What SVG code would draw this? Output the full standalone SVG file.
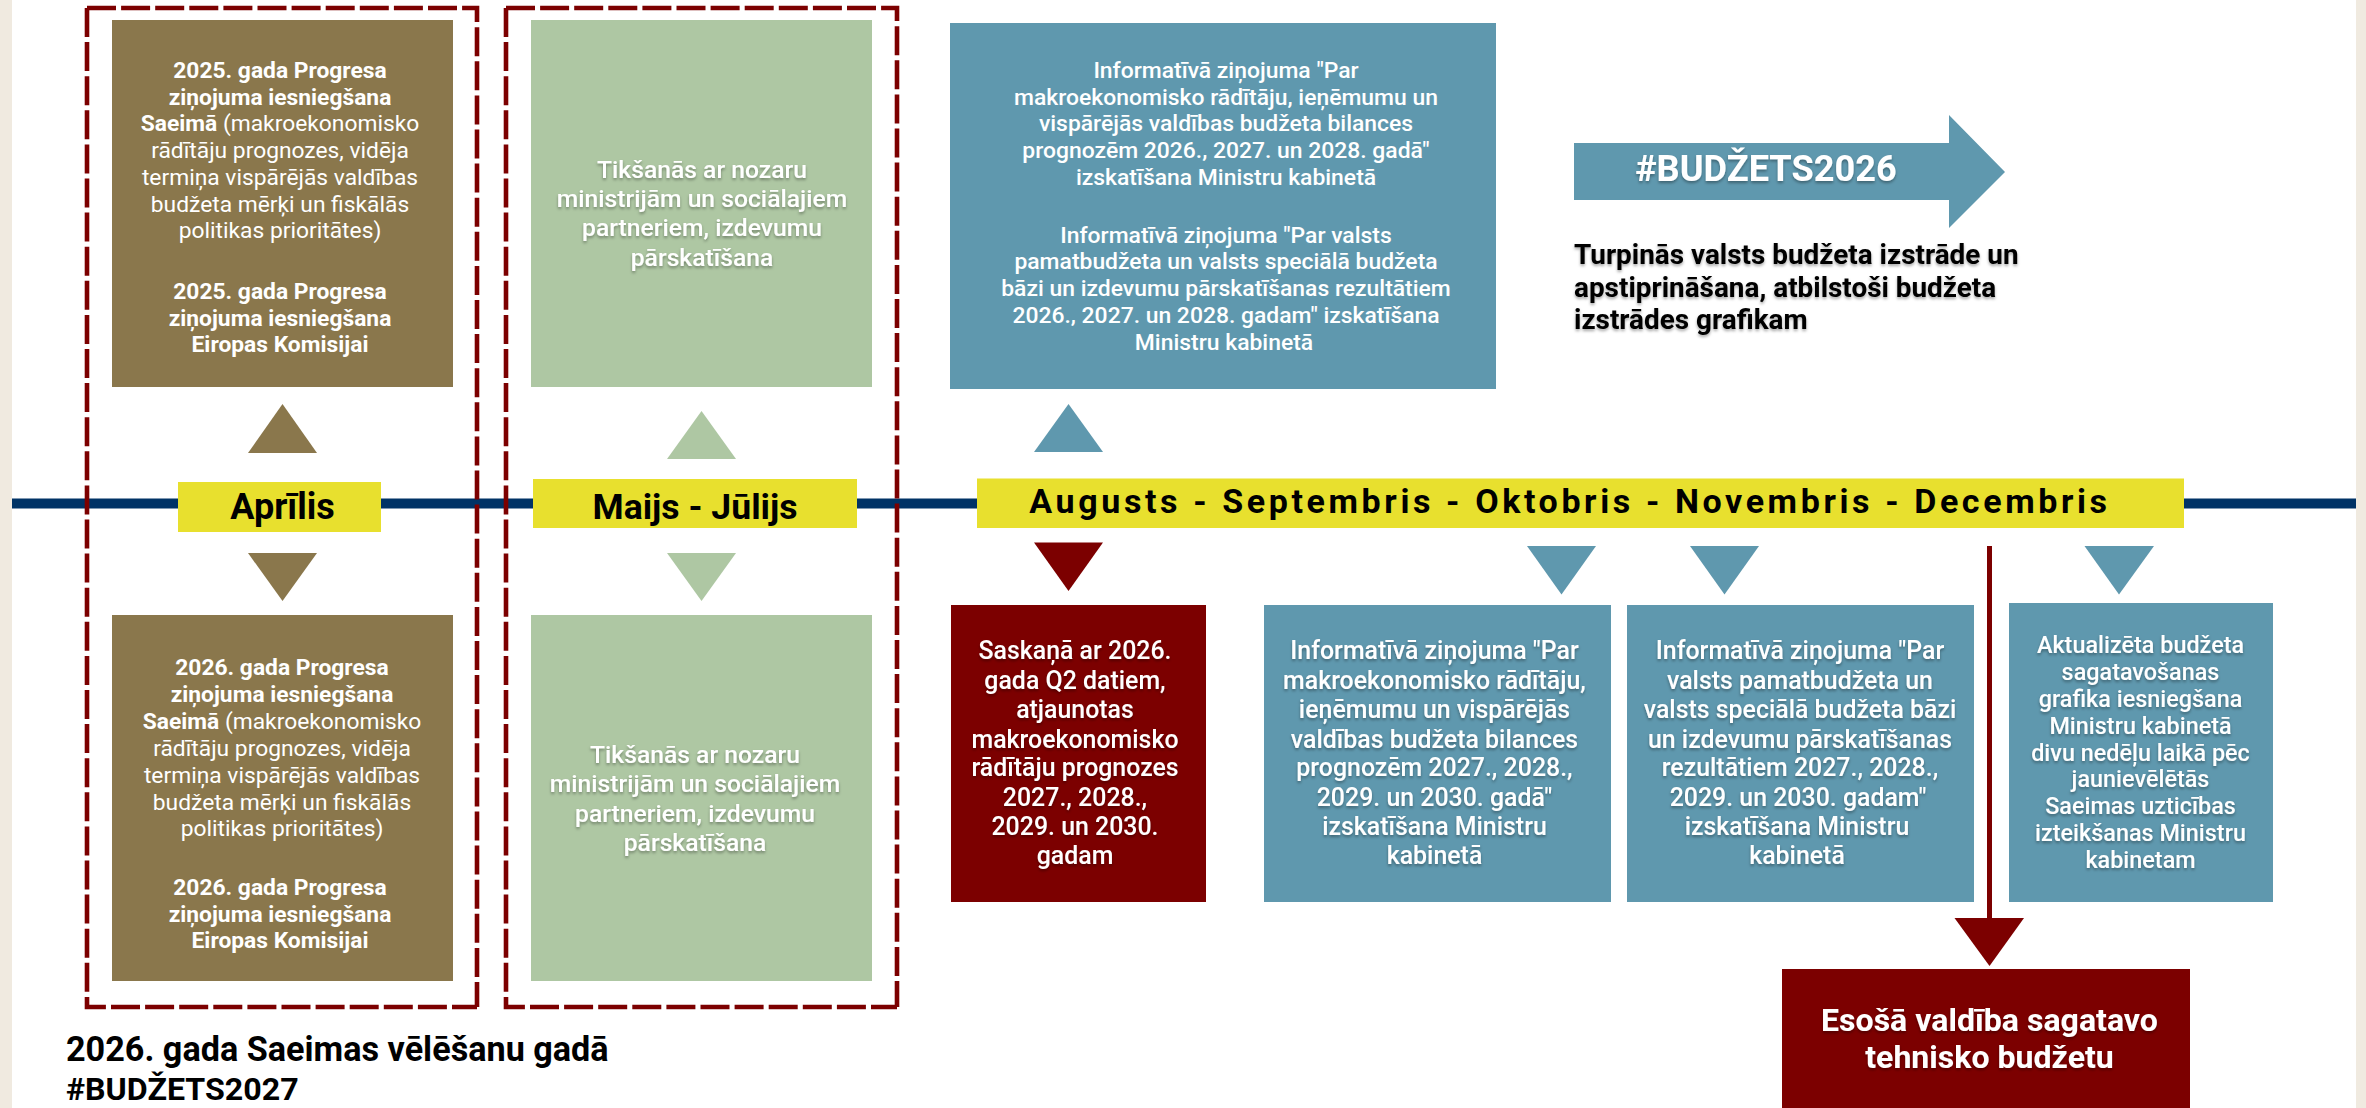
<svg xmlns="http://www.w3.org/2000/svg" width="2366" height="1108" viewBox="0 0 2366 1108">
<style>
text{font-family:Roboto,"Liberation Sans",sans-serif;text-anchor:middle;fill:#fff}
.s{filter:url(#sh)}
.b{font-weight:700}
.m{font-weight:500}
.r{font-weight:400}
.t23{font-size:22.8px}
.t23b{font-size:22.9px}
.t235{font-size:23.4px}
.t25{font-size:24.9px}
.t246{font-size:24.7px}
.k{fill:#000;text-anchor:start}
.c{text-anchor:middle}
.brown{fill:#8a774c}.green{fill:#aec7a3}.blue{fill:#5f98ae}.red{fill:#7c0000}.yel{fill:#e8e02e}
.dash{fill:none;stroke:#7c0000;stroke-width:4.6;stroke-dasharray:29 5.1}
</style>
<defs><filter id="sh" x="-10%" y="-30%" width="120%" height="170%"><feDropShadow dx="0" dy="2" stdDeviation="1.5" flood-color="#000" flood-opacity=".35"/></filter></defs>
<rect width="2366" height="1108" fill="#fff"/>
<rect width="12" height="1108" fill="#f0eae0"/>
<rect x="2356" width="10" height="1108" fill="#f0eae0"/>
<g id="connectors">
<rect x="12" y="498.500" width="2344" height="10" fill="#003366"/>
<polygon class="brown" points="248,453 317,453 282.500,404"/>
<polygon class="brown" points="248,553 317,553 282.500,601"/>
<polygon class="green" points="667,459 736,459 701.500,411"/>
<polygon class="green" points="667,553 736,553 701.500,601"/>
<polygon class="blue" points="1034,452 1103,452 1068.500,404"/>
<polygon class="red" points="1034,542.500 1103,542.500 1068.500,591"/>
<polygon class="blue" points="1527,546 1596,546 1561.500,594.500"/>
<polygon class="blue" points="1690,546 1759,546 1724.500,594.500"/>
<polygon class="blue" points="2084.500,546 2154,546 2119,594.500"/>
<rect x="1987" y="546" width="5" height="373" fill="#7c0000"/>
<polygon class="red" points="1954.500,918 2024,918 1989.500,966"/>
</g>
<g id="frame-april"><path class="dash" d="M87 8H477V1007"/><path class="dash" d="M87 8V1007H477"/></g>
<g id="frame-may"><path class="dash" d="M506 8H897V1007"/><path class="dash" d="M506 8V1007H897"/></g>
<g id="apr-top"><rect class="brown" x="112" y="20" width="341" height="367"/>
<g class="t23 r"><text x="280" y="78" class="b">2025. gada Progresa</text><text x="280" y="105" class="b">ziņojuma iesniegšana</text><text x="280" y="131"><tspan class="b">Saeimā</tspan> (makroekonomisko</text><text x="280" y="158">rādītāju prognozes, vidēja</text><text x="280" y="185">termiņa vispārējās valdības</text><text x="280" y="212">budžeta mērķi un fiskālās</text><text x="280" y="238">politikas prioritātes)</text><text x="280" y="299" class="b">2025. gada Progresa</text><text x="280" y="326" class="b">ziņojuma iesniegšana</text><text x="280" y="352" class="b">Eiropas Komisijai</text></g></g>
<g id="apr-bottom"><rect class="brown" x="112" y="615" width="341" height="366"/>
<g class="t23 r"><text x="282" y="675" class="b">2026. gada Progresa</text><text x="282" y="702" class="b">ziņojuma iesniegšana</text><text x="282" y="729"><tspan class="b">Saeimā</tspan> (makroekonomisko</text><text x="282" y="756">rādītāju prognozes, vidēja</text><text x="282" y="783">termiņa vispārējās valdības</text><text x="282" y="810">budžeta mērķi un fiskālās</text><text x="282" y="836">politikas prioritātes)</text><text x="280" y="895" class="b">2026. gada Progresa</text><text x="280" y="922" class="b">ziņojuma iesniegšana</text><text x="280" y="948" class="b">Eiropas Komisijai</text></g></g>
<g id="may-top"><rect class="green" x="531" y="20" width="341" height="367"/>
<g class="t246 m s"><text x="702" y="178">Tikšanās ar nozaru</text><text x="702" y="207">ministrijām un sociālajiem</text><text x="702" y="236">partneriem, izdevumu</text><text x="702" y="266">pārskatīšana</text></g></g>
<g id="may-bottom"><rect class="green" x="531" y="615" width="341" height="366"/>
<g class="t246 m s"><text x="695" y="763">Tikšanās ar nozaru</text><text x="695" y="792">ministrijām un sociālajiem</text><text x="695" y="822">partneriem, izdevumu</text><text x="695" y="851">pārskatīšana</text></g></g>
<g id="label-april"><rect class="yel" x="178" y="482" width="203" height="50"/><text x="282.500" y="518.500" class="b k c" style="font-size:36px">Aprīlis</text></g>
<g id="label-may"><rect class="yel" x="533" y="479" width="324" height="49"/><text x="695" y="518.500" class="b k c" style="font-size:35.600px">Maijs - Jūlijs</text></g>
<g id="label-aug"><rect class="yel" x="977" y="478.500" width="1207" height="49.500"/><text x="1570" y="512.500" class="b k c" style="font-size:34px;letter-spacing:3.6px">Augusts - Septembris - Oktobris - Novembris - Decembris</text></g>
<g id="aug-top"><rect class="blue" x="950" y="23" width="546" height="366"/>
<g class="t23b m"><text x="1226" y="78">Informatīvā ziņojuma "Par</text><text x="1226" y="105">makroekonomisko rādītāju, ieņēmumu un</text><text x="1226" y="131">vispārējās valdības budžeta bilances</text><text x="1226" y="158">prognozēm 2026., 2027. un 2028. gadā"</text><text x="1226" y="185">izskatīšana Ministru kabinetā</text><text x="1226" y="243">Informatīvā ziņojuma "Par valsts</text><text x="1226" y="269">pamatbudžeta un valsts speciālā budžeta</text><text x="1226" y="296">bāzi un izdevumu pārskatīšanas rezultātiem</text><text x="1226" y="323">2026., 2027. un 2028. gadam" izskatīšana</text><text x="1224" y="350">Ministru kabinetā</text></g></g>
<g id="budzets2026"><polygon class="blue" points="1574,143 1949,143 1949,115 2005,172 1949,228 1949,200 1574,200"/><text x="1766" y="181" class="b s" style="font-size:36.200px">#BUDŽETS2026</text></g>
<g id="continue"><g class="b s" style="font-size:27.900px"><text x="1574" y="264" class="k">Turpinās valsts budžeta izstrāde un</text><text x="1574" y="297" class="k">apstiprināšana, atbilstoši budžeta</text><text x="1574" y="329" class="k">izstrādes grafikam</text></g></g>
<g id="q2"><rect class="red" x="951" y="605" width="255" height="297"/>
<g class="t25 m s"><text x="1075" y="659">Saskaņā ar 2026.</text><text x="1075" y="688.500">gada Q2 datiem,</text><text x="1075" y="718">atjaunotas</text><text x="1075" y="747.500">makroekonomisko</text><text x="1075" y="776">rādītāju prognozes</text><text x="1075" y="806">2027., 2028.,</text><text x="1075" y="835">2029. un 2030.</text><text x="1075" y="864">gadam</text></g></g>
<g id="info1"><rect class="blue" x="1264" y="605" width="347" height="297"/>
<g class="t25 m s"><text x="1434.500" y="659">Informatīvā ziņojuma "Par</text><text x="1434.500" y="688.500">makroekonomisko rādītāju,</text><text x="1434.500" y="718">ieņēmumu un vispārējās</text><text x="1434.500" y="747.500">valdības budžeta bilances</text><text x="1434.500" y="776">prognozēm 2027., 2028.,</text><text x="1434.500" y="806">2029. un 2030. gadā"</text><text x="1434.500" y="835">izskatīšana Ministru</text><text x="1434.500" y="864">kabinetā</text></g></g>
<g id="info2"><rect class="blue" x="1627" y="605" width="347" height="297"/>
<g class="t25 m s"><text x="1800" y="659">Informatīvā ziņojuma "Par</text><text x="1800" y="688.500">valsts pamatbudžeta un</text><text x="1800" y="718">valsts speciālā budžeta bāzi</text><text x="1800" y="747.500">un izdevumu pārskatīšanas</text><text x="1800" y="776">rezultātiem 2027., 2028.,</text><text x="1798" y="806">2029. un 2030. gadam"</text><text x="1797" y="835">izskatīšana Ministru</text><text x="1797" y="864">kabinetā</text></g></g>
<g id="schedule"><rect class="blue" x="2009" y="603" width="264" height="299"/>
<g class="t235 m s"><text x="2140.500" y="653">Aktualizēta budžeta</text><text x="2140.500" y="680">sagatavošanas</text><text x="2140.500" y="707">grafika iesniegšana</text><text x="2140.500" y="733.500">Ministru kabinetā</text><text x="2140.500" y="761">divu nedēļu laikā pēc</text><text x="2140.500" y="787">jaunievēlētās</text><text x="2140.500" y="814">Saeimas uzticības</text><text x="2140.500" y="841">izteikšanas Ministru</text><text x="2140.500" y="868">kabinetam</text></g></g>
<g id="technical"><rect class="red" x="1782" y="969" width="408" height="139"/>
<g class="b s" style="font-size:32.100px"><text x="1989.500" y="1030.500">Esošā valdība sagatavo</text><text x="1989.500" y="1068">tehnisko budžetu</text></g></g>
<g id="election-note"><g class="b"><text x="66" y="1061" class="k" style="font-size:34.200px">2026. gada Saeimas vēlēšanu gadā</text><text x="66" y="1100" class="k" style="font-size:32.200px">#BUDŽETS2027</text></g></g>
</svg>
